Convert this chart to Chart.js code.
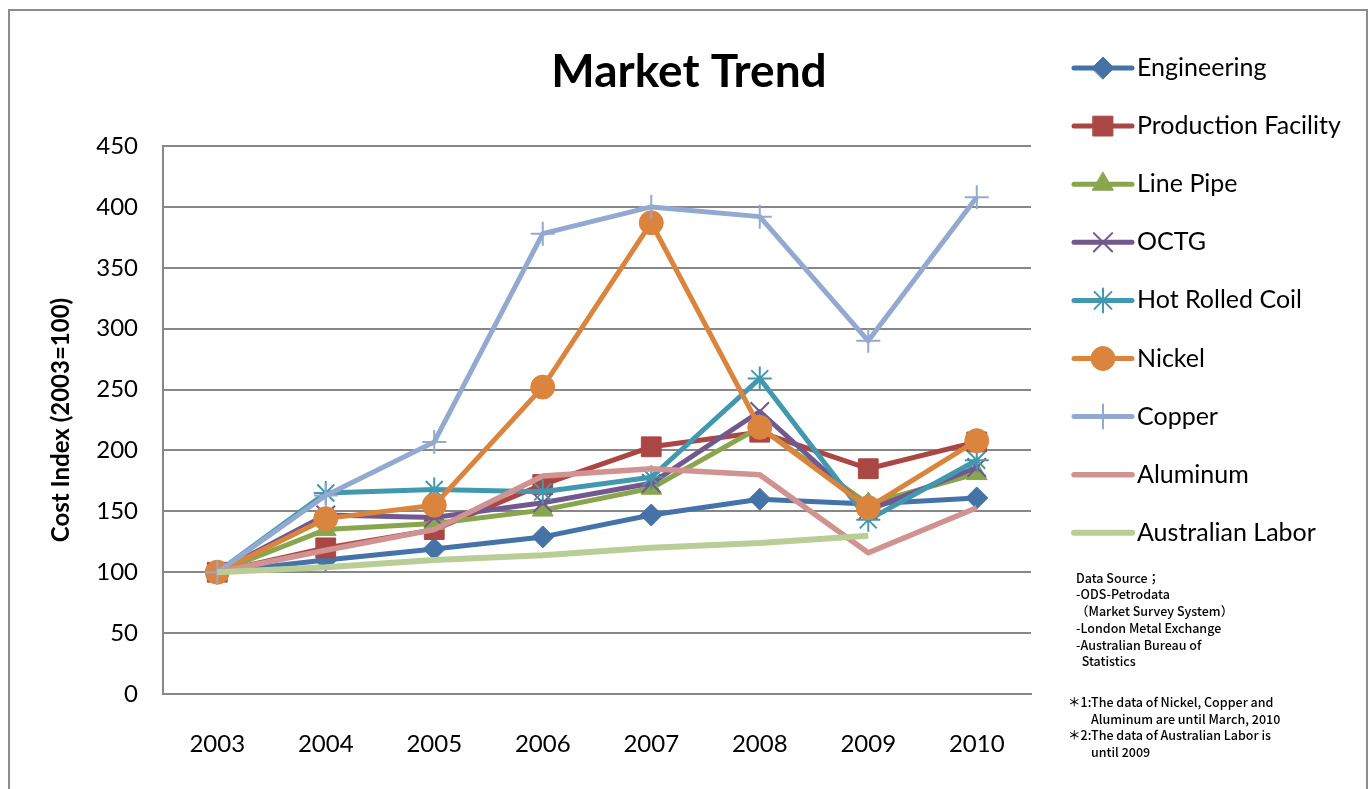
<!DOCTYPE html>
<html>
<head>
<meta charset="utf-8">
<title>Market Trend</title>
<script src="https://cdn.jsdelivr.net/npm/chart.js@4.4.1/dist/chart.umd.min.js"></script>
<style>
  html, body { margin: 0; padding: 0; background: #fff; }
  #chart { display: block; }
</style>
</head>
<body>
<canvas id="chart" width="1370" height="789"></canvas>
<script>
// values (2003 = 100)
const years = ['2003', '2004', '2005', '2006', '2007', '2008', '2009', '2010'];
const engineering = [100, 110, 119, 129, 147, 160, 156, 161];
const productionFacility = [100, 120, 135, 172, 203, 215, 185, 207];
const linePipe = [100, 135, 140, 151, 169, 219, 156, 181];
const octg = [100, 147, 145, 157, 173, 232, 151, 186];
const hotRolledCoil = [100, 165, 168, 166, 178, 259, 143, 192];
const nickel = [100, 144, 155, 252, 387, 219, 153, 208];
const copper = [100, 163, 207, 378, 400, 392, 290, 408];
const aluminum = [100, 118, 135, 179, 185, 180, 116, 153];
const australianLabor = [100, 104, 110, 114, 120, 124, 130, null];

const chartTitle = 'Market Trend';
const sourceNotes = [
  'Data Source；',
  '-ODS-Petrodata',
  '（Market Survey System）',
  '-London Metal Exchange',
  '-Australian Bureau of',
  '  Statistics'
];
const footNotes = [
  ['＊1:', 'The data of Nickel, Copper and'],
  ['', 'Aluminum are until March, 2010'],
  ['＊2:', 'The data of Australian Labor is'],
  ['', 'until 2009']
];

const FONT = 'Lato, "Open Sans", sans-serif';
const GRID = '#878787';

function series(label, data, color, style, radius, thin, width) {
  return {
    label,
    data,
    borderColor: color,
    backgroundColor: color,
    borderWidth: width || 5,
    borderJoinStyle: 'round',
    pointStyle: style,
    pointRadius: radius,
    pointBackgroundColor: color,
    pointBorderColor: color,
    pointBorderWidth: thin ? 2 : 1,
    tension: 0
  };
}

const datasets = [
  series('Engineering', engineering, '#4572A7', 'rectRot', 11),
  series('Production Facility', productionFacility, '#AA4643', 'rect', 14),
  series('Line Pipe', linePipe, '#89A54E', 'triangle', 12),
  series('OCTG', octg, '#71588F', 'crossRot', 13, true),
  series('Hot Rolled Coil', hotRolledCoil, '#4198AF', 'star', 12, true),
  series('Nickel', nickel, '#DB843D', 'circle', 12),
  series('Copper', copper, '#93A9CF', 'cross', 12, true),
  series('Aluminum', aluminum, '#D19392', false, 0, false, 5.5),
  series('Australian Labor', australianLabor, '#B9CD96', false, 0, false, 6)
];
// later series sit on top, as in the original
datasets.forEach((d, i) => { d.order = datasets.length - i; });

// frame, title, legend and source notes drawn on the canvas
const extras = {
  id: 'extras',
  afterDraw(chart) {
    const ctx = chart.ctx;
    ctx.save();

    ctx.strokeStyle = '#8c8c8c';
    ctx.lineWidth = 2;
    ctx.strokeRect(9, 10, 1358, 800);

    ctx.fillStyle = '#000';
    ctx.font = 'bold 46px ' + FONT;
    ctx.textAlign = 'center';
    ctx.textBaseline = 'alphabetic';
    ctx.fillText(chartTitle, 689, 87);

    // legend
    const x1 = 1074, x2 = 1132, tx = 1137, top = 68, step = 58.1;
    chart.data.datasets.forEach((d, i) => {
      const y = top + i * step;
      ctx.strokeStyle = d.borderColor;
      ctx.lineWidth = d.borderWidth;
      ctx.lineCap = 'round';
      ctx.beginPath();
      ctx.moveTo(x1, y);
      ctx.lineTo(x2, y);
      ctx.stroke();
      if (d.pointStyle && Chart.helpers && Chart.helpers.drawPoint) {
        ctx.fillStyle = d.pointBackgroundColor;
        ctx.strokeStyle = d.pointBorderColor;
        ctx.lineWidth = d.pointBorderWidth;
        Chart.helpers.drawPoint(ctx, {
          pointStyle: d.pointStyle, radius: d.pointRadius, rotation: 0, borderWidth: d.pointBorderWidth
        }, (x1 + x2) / 2, y);
      }
      ctx.fillStyle = '#000';
      ctx.font = '25px ' + FONT;
      ctx.textBaseline = 'middle';
      ctx.textAlign = 'left';
      ctx.fillText(d.label, tx, y);
    });

    // data source
    ctx.font = '500 12.5px "Noto Sans CJK JP", sans-serif';
    ctx.fillStyle = '#000';
    ctx.textBaseline = 'middle';
    ctx.textAlign = 'left';
    sourceNotes.forEach((t, i) => {
      ctx.fillText(t, 1076, 578 + i * 16.7);
    });
    footNotes.forEach((pair, i) => {
      const y = 702 + i * 16.8;
      if (pair[0]) ctx.fillText(pair[0], 1068, y);
      ctx.fillText(pair[1], 1091, y);
    });

    ctx.restore();
  }
};

new Chart(document.getElementById('chart'), {
  type: 'line',
  data: { labels: years, datasets },
  plugins: [extras],
  options: {
    responsive: false,
    animation: false,
    layout: { padding: { top: 146, right: 339, left: 0, bottom: 0 } },
    scales: {
      x: {
        offset: true,
        grid: { display: false, drawTicks: false },
        border: { color: GRID, width: 2 },
        ticks: { color: '#000', font: { family: FONT, size: 24 }, padding: 36, maxRotation: 0 },
        afterFit: (s) => { s.height = 95; }
      },
      y: {
        min: 0,
        max: 450,
        ticks: { stepSize: 50, color: '#000', font: { family: FONT, size: 24 }, padding: 25 },
        grid: { color: GRID, lineWidth: 2, drawTicks: false },
        border: { color: GRID, width: 2 },
        title: {
          display: true,
          text: 'Cost Index (2003=100)',
          color: '#000',
          font: { family: FONT, size: 24, weight: 'bold' },
          padding: { top: 47, bottom: 0 }
        },
        afterFit: (s) => { s.width = 163; }
      }
    },
    plugins: {
      legend: { display: false },
      tooltip: { enabled: false },
      title: { display: false }
    }
  }
});
</script>
</body>
</html>
